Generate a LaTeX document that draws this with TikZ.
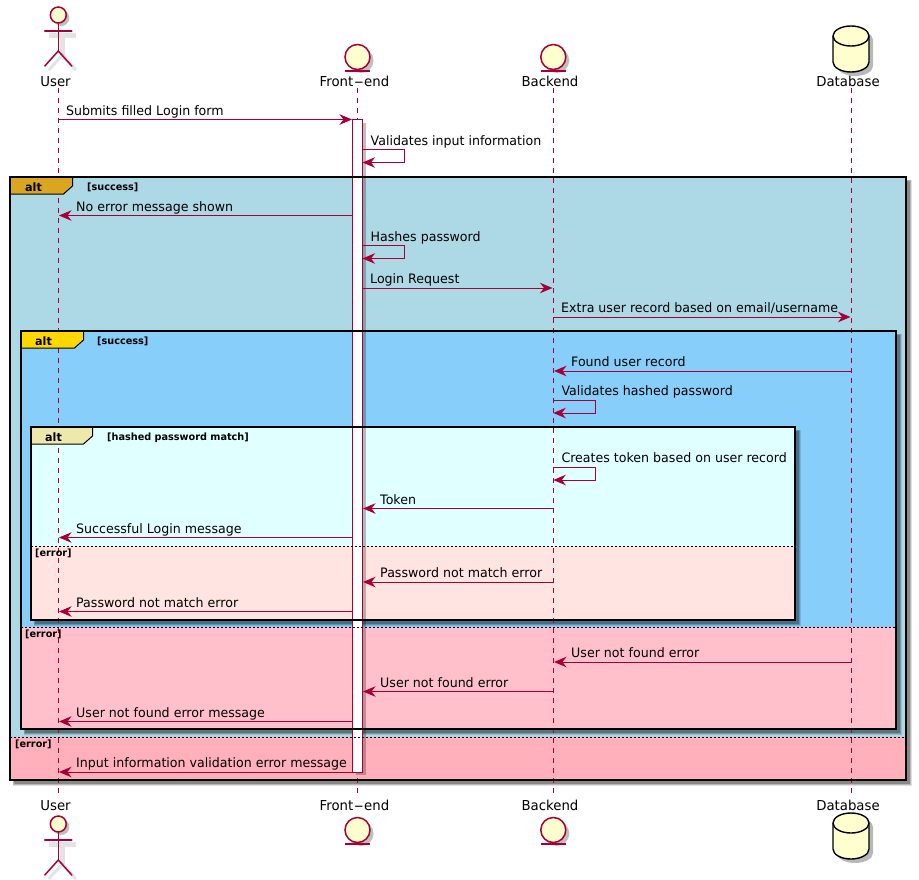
\documentclass[tikz,border=0pt]{standalone}
\usepackage{fontspec}
\usepackage{graphicx}
\setmainfont[FakeStretch=0.97]{DejaVu Sans}
\usetikzlibrary{arrows.meta}
\definecolor{pu}{HTML}{A80036}
\definecolor{cream}{HTML}{FEFECE}
\definecolor{fa}{RGB}{173,216,230}
\definecolor{fae}{RGB}{255,176,187}
\definecolor{fb}{RGB}{135,206,250}
\definecolor{fbe}{RGB}{255,192,203}
\definecolor{fc}{RGB}{224,255,255}
\definecolor{fce}{RGB}{255,228,225}
\definecolor{ta}{RGB}{218,165,32}
\definecolor{tb}{RGB}{255,215,0}
\definecolor{tc}{RGB}{238,232,170}
\tikzset{
  x=1pt,y=-1pt,
  life/.style={draw=pu,line width=0.9pt,dash pattern=on 5pt off 5pt},
  msgline/.style={draw=pu,line width=1pt,-{Stealth[length=12.5pt,width=10.5pt,inset=4pt]}},
  msglabel/.style={anchor=base west,inner sep=0pt,text=black,font=\fontsize{13}{15}\selectfont},
  headlabel/.style={anchor=base,inner sep=0pt,text=black,font=\fontsize{13.7}{16}\selectfont},
  guard/.style={anchor=base west,inner sep=0pt,text=black,font=\fontsize{10}{12}\bfseries\selectfont},
  tabel/.style={anchor=base,inner sep=0pt,text=black,font=\fontsize{11.5}{14}\bfseries\selectfont},
  border/.style={draw=black,line width=2pt},
  sep/.style={draw=black,line width=0.8pt,dash pattern=on 2pt off 2pt},
  puline/.style={draw=pu,line width=1.5pt,line cap=round},
  hcirc/.style={draw=pu,line width=1.5pt,fill=cream},
  figshadow/.style={draw=black,opacity=0.11,line width=5pt},
}
\newcommand{\softshadow}[4]{% x1 y1 x2 y2
  \foreach \k/\o in {1.5/0.12,0.8/0.18,0/0.25}{
    \fill[black,opacity=\o] ({#1+4-\k},{#2+4-\k}) rectangle ({#3+4+\k},{#4+4+\k});
  }}
\newcommand{\msg}[6]{% name fromx tox y textx text
  \coordinate (#1-a) at (#2,#4);
  \coordinate (#1-b) at (#3,#4);
  \draw[msgline] (#1-a) -- (#1-b);
  \node[msglabel] (#1-t) at ({#5},{#4-4.5}) {#6};
}
\newcommand{\selfmsg}[4]{% name x y text
  \coordinate (#1-a) at (#2,#3);
  \coordinate (#1-c) at ({#2+42},#3);
  \coordinate (#1-d) at ({#2+42},{#3+13});
  \coordinate (#1-b) at (#2,{#3+13});
  \draw[msgline] (#1-a) -- (#1-c) -- (#1-d) -- (#1-b);
  \node[msglabel] (#1-t) at ({#2+8},{#3-4.5}) {#4};
}
\newcommand{\frametab}[5]{% name x y w colour
  \fill[#5] (#2,#3) -- ({#2+#4},#3) -- ({#2+#4},{#3+8}) -- ({#2+#4-9},{#3+16}) -- (#2,{#3+16}) -- cycle;
  \draw[black,line width=1pt] ({#2+#4},#3) -- ({#2+#4},{#3+8}) -- ({#2+#4-9},{#3+16}) -- (#2,{#3+16});
}
\newcommand{\entity}[3]{% name x y
  \fill[black,opacity=0.25] ({#2+3.5},{#3+3.5}) circle (12.5);
  \node[circle,minimum size=25pt,inner sep=0pt,hcirc] (#1) at (#2,#3) {};
  \draw[puline,line cap=butt,line width=1.3pt] ({#2-12.7},{#3+14}) -- ({#2+12.7},{#3+14});
}
\newcommand{\actor}[3]{% name x y of head
  \draw[figshadow] ({#2-9.5},{#3+20}) -- ({#2+17.5},{#3+20});
  \draw[figshadow] ({#2+4},{#3+22.5}) -- ({#2+4},{#3+40});
  \draw[figshadow,line width=3pt] ({#2-9.5},{#3+55}) -- ({#2+4},{#3+40}) -- ({#2+17.5},{#3+55});
  \fill[black,opacity=0.25] ({#2+3},{#3+3}) circle (8);
  \node[circle,minimum size=16pt,inner sep=0pt,hcirc] (#1) at (#2,#3) {};
  \draw[puline] (#1.south) -- ({#2},{#3+36});
  \draw[puline] ({#2-13.5},{#3+16}) -- ({#2+13.5},{#3+16});
  \draw[puline] ({#2-13.5},{#3+51}) -- ({#2},{#3+36}) -- ({#2+13.5},{#3+51});
}
\newcommand{\dbase}[3]{% name x top-y
  \fill[black,opacity=0.28] ({#2-18+4},{#3+10+4}) -- ({#2-18+4},{#3+36+4}) arc[start angle=180,end angle=0,x radius=18,y radius=10] -- ({#2+18+4},{#3+10+4}) arc[start angle=0,end angle=-180,x radius=18,y radius=10] -- cycle;
  \draw[black,line width=1.4pt,fill=cream] ({#2-18},{#3+10}) -- ({#2-18},{#3+36}) arc[start angle=180,end angle=0,x radius=18,y radius=10] -- ({#2+18},{#3+10}) arc[start angle=0,end angle=-180,x radius=18,y radius=10] -- cycle;
  \draw[black,line width=1.4pt] ({#2-18},{#3+10}) arc[start angle=180,end angle=0,x radius=18,y radius=10];
  \coordinate (#1) at (#2,#3);
}
\newcommand{\fe}{Front\kern.4pt\scalebox{2.1}[1]{-}\kern.4pt end}
\begin{document}
\begin{tikzpicture}
\useasboundingbox (0,0) rectangle (919,879);
\fill[white] (0,0) rectangle (919,879);
% frame fills
\softshadow{10}{177}{906}{780}
\fill[fa] (10,177) rectangle (906,737);
\fill[fae] (10,737) rectangle (906,780);
\softshadow{21}{331}{896}{729}
\fill[fb] (21,331) rectangle (896,627);
\fill[fbe] (21,627) rectangle (896,729);
\softshadow{31}{427}{795}{620}
\fill[fc] (31,427) rectangle (795,546);
\fill[fce] (31,546) rectangle (795,620);
% participants
\actor{userT}{58.3}{15}
\actor{userB}{58.3}{824}
\entity{frontT}{357.5}{57}
\entity{frontB}{357.5}{830}
\entity{backT}{553.3}{57}
\entity{backB}{553.3}{830}
\dbase{dbT}{851}{26}
\dbase{dbB}{851}{813}
\node[headlabel] (userTl) at (55.5,86) {User};
\node[headlabel] (frontTl) at (354.5,86) {\fe};
\node[headlabel] (backTl) at (550,86) {Backend};
\node[headlabel] (dbTl) at (848,86) {Database};
\node[headlabel] (userBl) at (55.5,810) {User};
\node[headlabel] (frontBl) at (354.5,810) {\fe};
\node[headlabel] (backBl) at (550,810) {Backend};
\node[headlabel] (dbBl) at (848,810) {Database};
% lifelines
\coordinate (lu1) at (58.5,88); \coordinate (lu2) at (58.5,793);
\coordinate (lf1) at (357.5,88); \coordinate (lf2) at (357.5,793);
\coordinate (lb1) at (553.3,88); \coordinate (lb2) at (553.3,793);
\coordinate (ld1) at (851,88); \coordinate (ld2) at (851,793);
\draw[life] (lu1) -- (lu2);
\draw[life] (lf1) -- (lf2);
\draw[life] (lb1) -- (lb2);
\draw[life] (ld1) -- (ld2);
% activation
\fill[black,opacity=0.25] (356,123) rectangle (365.5,775);
\draw[pu,line width=1pt,fill=white] (352.5,119.5) rectangle (362.5,772);
% borders
\draw[border] (10,177) rectangle (906,780);
\draw[border] (21,331) rectangle (896,729);
\draw[border] (31,427) rectangle (795,620);
\draw[sep] (10,737) -- (906,737);
\draw[sep] (21,627) -- (896,627);
\draw[sep] (31,546.5) -- (795,546.5);
% tabs
\frametab{a}{11}{178}{61.5}{ta}
\frametab{b}{22}{332}{61.5}{tb}
\frametab{c}{32}{428}{60.5}{tc}
\node[tabel] (ta) at (33.5,191.5) {alt};
\node[tabel] (tb) at (43.5,345) {alt};
\node[tabel] (tc) at (53.5,441) {alt};
\node[guard] (ga) at (87,190) {[success]};
\node[guard] (gb) at (97,344) {[success]};
\node[guard] (gc) at (107,440) {[hashed password match]};
\node[guard] (gd) at (15,747.5) {[error]};
\node[guard] (ge) at (25,637) {[error]};
\node[guard] (gf) at (35,556) {[error]};
% messages
\msg{m1}{58.5}{352}{119.5}{66}{Submits filled Login form}
\selfmsg{m2}{362.5}{149.5}{Validates input information}
\msg{m3}{352}{59}{215.5}{76}{No error message shown}
\selfmsg{m4}{362.5}{245.5}{Hashes password}
\msg{m5}{362.5}{552.5}{288}{370}{Login Request}
\msg{m6}{553.3}{850.5}{317}{561}{Extra user record based on email/username}
\msg{m7}{851}{554}{371}{571}{Found user record}
\selfmsg{m8}{553.3}{400}{Validates hashed password}
\selfmsg{m9}{553.3}{467}{Creates token based on user record}
\msg{m10}{553.3}{363}{508.5}{380}{Token}
\msg{m11}{352}{59}{537.5}{76}{Successful Login message}
\msg{m12}{553.3}{363}{582}{380}{Password not match error}
\msg{m13}{352}{59}{611.5}{76}{Password not match error}
\msg{m14}{851}{554}{662}{571}{User not found error}
\msg{m15}{553.3}{363}{691.5}{380}{User not found error}
\msg{m16}{352}{59}{721.5}{76}{User not found error message}
\msg{m17}{352}{59}{772}{76}{Input information validation error message}
\end{tikzpicture}
\end{document}
